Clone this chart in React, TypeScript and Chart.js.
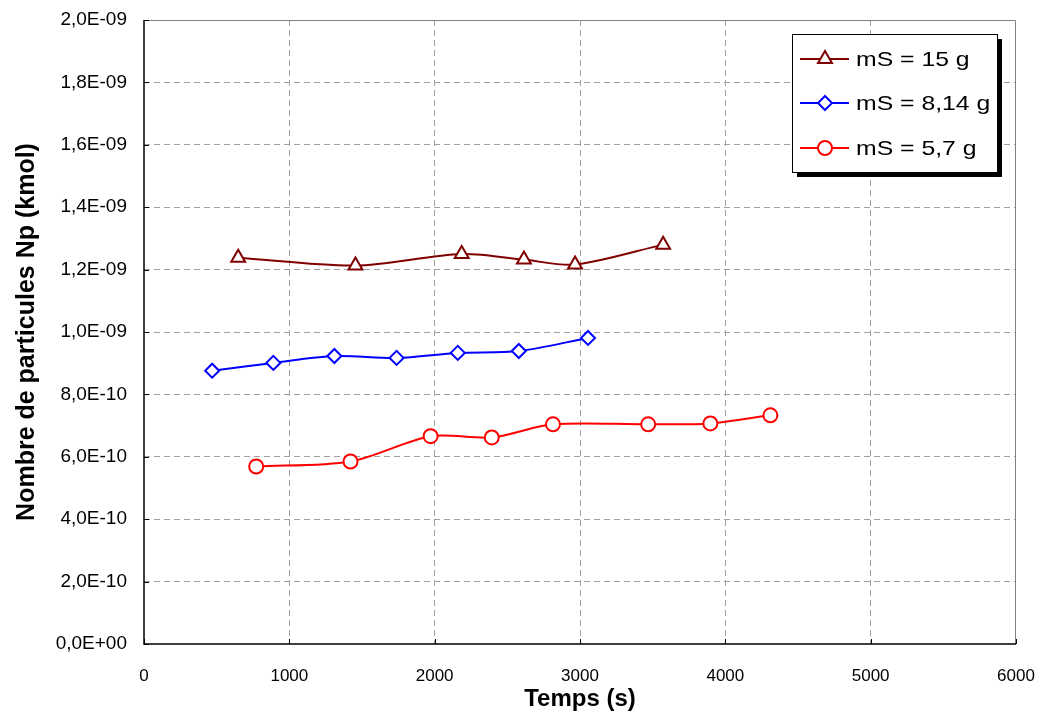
import React, { useEffect, useRef } from "react";
import { Chart, registerables } from "chart.js";

Chart.register(...registerables);

const seriesNames = ["mS = 15 g", "mS = 8,14 g", "mS = 5,7 g"];

const time15 = [648, 1455, 2186, 2614, 2966, 3572];
const np15 = [1.238e-9, 1.213e-9, 1.25e-9, 1.232e-9, 1.216e-9, 1.28e-9];

const time814 = [469, 890, 1310, 1738, 2159, 2579, 3055];
const np814 = [0.876e-9, 0.901e-9, 0.923e-9, 0.917e-9, 0.933e-9, 0.939e-9, 0.981e-9];

const time57 = [772, 1421, 1972, 2393, 2814, 3469, 3897, 4310];
const np57 = [0.569e-9, 0.585e-9, 0.666e-9, 0.662e-9, 0.704e-9, 0.704e-9, 0.707e-9, 0.733e-9];

const xTitle = "Temps (s)";
const yTitle = "Nombre de particules Np (kmol)";

const colors = ["#800000", "#0000FF", "#FF0000"];
const markers = ["triangle", "rectRot", "circle"];

const FONT = "'Liberation Sans', Arial, sans-serif";

function fmtSci(v: number): string {
  if (Math.abs(v) < 1e-20) return "0,0E+00";
  let exp = Math.floor(Math.log10(Math.abs(v)));
  let mant = v / Math.pow(10, exp);
  mant = Math.round(mant * 10) / 10;
  if (mant >= 10) {
    mant = mant / 10;
    exp += 1;
  }
  const sign = exp < 0 ? "-" : "+";
  const e = Math.abs(exp).toString().padStart(2, "0");
  return mant.toFixed(1).replace(".", ",") + "E" + sign + e;
}

const frame = {
  id: "frame",
  afterDraw(chart: any) {
    const { ctx, chartArea } = chart;
    const { left, right, top, bottom } = chartArea;
    ctx.save();
    ctx.strokeStyle = "#808080";
    ctx.lineWidth = 1;
    ctx.beginPath();
    ctx.moveTo(left, top + 0.5);
    ctx.lineTo(right - 0.5, top + 0.5);
    ctx.lineTo(right - 0.5, bottom);
    ctx.stroke();
    ctx.strokeStyle = "#000";
    ctx.lineWidth = 1.5;
    ctx.beginPath();
    ctx.moveTo(left, top);
    ctx.lineTo(left, bottom);
    ctx.lineTo(right, bottom);
    ctx.stroke();
    ctx.lineWidth = 1;
    const xs = chart.scales.x;
    const ys = chart.scales.y;
    ctx.beginPath();
    xs.ticks.forEach((t: any) => {
      const px = Math.round(xs.getPixelForValue(t.value)) + 0.5;
      ctx.moveTo(px, bottom);
      ctx.lineTo(px, bottom - 5);
    });
    ys.ticks.forEach((t: any) => {
      const py = Math.round(ys.getPixelForValue(t.value)) + 0.5;
      ctx.moveTo(left, py);
      ctx.lineTo(left + 5, py);
    });
    ctx.stroke();

    // legend
    const bx = right - 224;
    const by = top + 14;
    const bw = 205;
    const bh = 138;
    ctx.fillStyle = "#000";
    ctx.fillRect(bx + 5, by + 5, bw, bh);
    ctx.fillStyle = "#fff";
    ctx.fillRect(bx, by, bw, bh);
    ctx.strokeStyle = "#000";
    ctx.lineWidth = 1;
    ctx.strokeRect(bx + 0.5, by + 0.5, bw, bh);
    const rows = [25, 69, 114];
    ctx.font = "21px " + FONT;
    ctx.textBaseline = "middle";
    ctx.textAlign = "left";
    seriesNames.forEach((name, i) => {
      const cy = by + rows[i];
      ctx.strokeStyle = colors[i];
      ctx.lineWidth = 2;
      ctx.beginPath();
      ctx.moveTo(bx + 8, cy);
      ctx.lineTo(bx + 57, cy);
      ctx.stroke();
      ctx.fillStyle = "#fff";
      ctx.lineWidth = 2;
      const mx = bx + 33;
      ctx.beginPath();
      if (i === 0) {
        const r = 8;
        ctx.moveTo(mx, cy - r);
        ctx.lineTo(mx + r * 0.87, cy + r * 0.5);
        ctx.lineTo(mx - r * 0.87, cy + r * 0.5);
        ctx.closePath();
      } else if (i === 1) {
        const r = 7;
        ctx.moveTo(mx, cy - r);
        ctx.lineTo(mx + r, cy);
        ctx.lineTo(mx, cy + r);
        ctx.lineTo(mx - r, cy);
        ctx.closePath();
      } else {
        ctx.arc(mx, cy, 7, 0, Math.PI * 2);
      }
      ctx.fill();
      ctx.stroke();
      ctx.fillStyle = "#000";
      ctx.save();
      ctx.translate(bx + 64, cy + 1);
      ctx.scale(1.18, 1);
      ctx.fillText(name, 0, 0);
      ctx.restore();
    });
    ctx.restore();
  },
};

export default function App() {
  const ref = useRef<HTMLCanvasElement | null>(null);
  useEffect(() => {
    document.body.style.margin = "0";
    const times = [time15, time814, time57];
    const vals = [np15, np814, np57];
    const chart = new Chart(ref.current as HTMLCanvasElement, {
      type: "line",
      data: {
        datasets: seriesNames.map((name, i) => ({
          label: name,
          data: times[i].map((t, j) => ({ x: t, y: vals[i][j] })),
          borderColor: colors[i],
          backgroundColor: "#fff",
          borderWidth: 2,
          pointStyle: markers[i] as any,
          pointRadius: i === 0 ? 8 : 7,
          pointBorderWidth: 2,
          pointBorderColor: colors[i],
          pointBackgroundColor: "#fff",
          tension: 0.3,
          fill: false,
        })),
      },
      options: {
        animation: false,
        responsive: false,
        maintainAspectRatio: false,
        layout: { padding: { left: 0, top: 20, right: 27, bottom: 0 } },
        plugins: { legend: { display: false }, tooltip: { enabled: false } },
        scales: {
          x: {
            type: "linear",
            min: 0,
            max: 6000,
            ticks: {
              stepSize: 1000,
              color: "#000",
              padding: 22,
              maxRotation: 0,
              callback: (v: any) => String(Math.round(Number(v))),
              font: { family: FONT, size: 17 },
            },
            grid: {
              color: (c: any) => (c.index === 0 || c.index === 6 ? "rgba(0,0,0,0)" : "#a0a0a0"),
              drawTicks: false,
              tickLength: 0,
            },
            border: { display: false, dash: [6, 4] },
            title: {
              display: true,
              text: xTitle,
              color: "#000",
              padding: { top: 0, bottom: 1 },
              font: { family: FONT, size: 24, weight: "bold" },
            },
            afterFit: (s: any) => {
              s.height = 71;
              s.paddingLeft = 0;
              s.paddingRight = 0;
            },
          },
          y: {
            type: "linear",
            min: 0,
            max: 2e-9,
            ticks: {
              stepSize: 2e-10,
              color: "#000",
              padding: 17,
              callback: (v: any) => fmtSci(Number(v)),
              font: { family: FONT, size: 19 },
            },
            grid: {
              color: (c: any) => (c.index === 0 || c.index === 10 ? "rgba(0,0,0,0)" : "#a0a0a0"),
              drawTicks: false,
              tickLength: 0,
            },
            border: { display: false, dash: [6, 4] },
            title: {
              display: true,
              text: yTitle,
              color: "#000",
              padding: { top: 12, bottom: 12 },
              font: { family: FONT, size: 25, weight: "bold" },
            },
            afterFit: (s: any) => {
              s.width = 144;
              s.paddingTop = 0;
              s.paddingBottom = 0;
            },
          },
        },
      },
      plugins: [frame],
    });
    return () => chart.destroy();
  }, []);
  return (
    <div style={{ position: "absolute", left: 0, top: 0, width: 1043, height: 715, background: "#fff" }}>
      <canvas ref={ref} width={1043} height={715} style={{ width: 1043, height: 715 }} />
    </div>
  );
}
